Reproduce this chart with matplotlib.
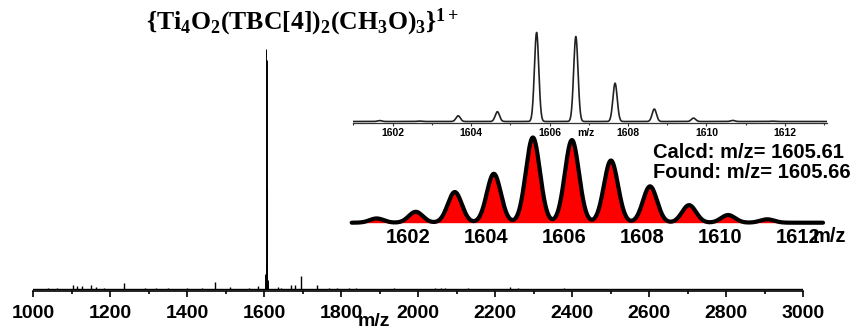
import numpy as np
import matplotlib
matplotlib.use("Agg")
import matplotlib.pyplot as plt
from matplotlib.ticker import MultipleLocator

plt.rcParams['font.family'] = ['Liberation Sans', 'DejaVu Sans']
plt.rcParams['font.weight'] = 'bold'
plt.rcParams['mathtext.fontset'] = 'custom'
plt.rcParams['mathtext.rm'] = 'Liberation Serif:bold'
plt.rcParams['mathtext.it'] = 'Liberation Serif:bold'
plt.rcParams['mathtext.bf'] = 'Liberation Serif:bold'

# Full-range ESI-MS spectrum: minor peaks (m/z, relative intensity %)
survey_mz = [1040, 1062, 1104, 1114, 1126, 1151, 1163, 1185, 1237, 1290, 1320,
             1350, 1400, 1440, 1474, 1512, 1560, 1585, 1637, 1645, 1669, 1680,
             1695, 1738, 1770, 1790, 1820, 1840, 1937, 2045, 2060, 2070, 2130,
             2238, 2260, 2380, 2500]
survey_int = [0.3, 0.3, 1.7, 1.2, 1.2, 1.6, 1.0, 0.5, 2.5, 0.4, 0.6,
              0.4, 0.4, 0.3, 3.1, 1.0, 0.4, 1.2, 0.8, 0.6, 1.6, 1.6,
              5.4, 1.5, 0.6, 0.6, 0.4, 0.4, 0.4, 0.5, 0.6, 0.4, 0.4,
              0.7, 0.6, 0.3, 0.2]

# Observed isotope envelope of {Ti4O2(TBC[4])2(CH3O)3}+
obs_mz = [1601.67, 1602.67, 1603.67, 1604.67, 1605.67, 1606.67, 1607.67,
          1608.67, 1609.67, 1610.67, 1611.67]
obs_int = [1.0, 0.5, 6.4, 11.0, 100.0, 95.5, 43.0, 14.0, 3.8, 1.2, 0.4]

# Simulated isotope envelope
sim_mz = [1601.2, 1602.2, 1603.2, 1604.2, 1605.2, 1606.2, 1607.2,
          1608.2, 1609.2, 1610.2, 1611.2]
sim_int = [5.0, 12.8, 36.0, 57.4, 100.0, 97.0, 73.0, 42.7, 20.6, 9.0, 4.0]

W, H = 858, 331
fig = plt.figure(figsize=(W / 100, H / 100), dpi=100)


def rect(x0, x1, ytop, ybot):
    return [x0 / W, 1 - ybot / H, (x1 - x0) / W, (ybot - ytop) / H]


def profile(x, centers, heights, sigma):
    y = np.zeros_like(x)
    for c, h in zip(centers, heights):
        y += h * np.exp(-0.5 * ((x - c) / sigma) ** 2)
    return y


# ---- main spectrum ----
ax = fig.add_axes(rect(33, 803, 40, 291))
ax.plot([1000, 3000], [0, 0], color='black', lw=1.0)
ax.vlines(survey_mz, 0, survey_int, color='black', lw=1.0)
ax.vlines(obs_mz, 0, obs_int, color='black', lw=0.7)
ax.set_xlim(1000, 3000)
ax.set_ylim(-0.833, 103.75)
for s in ('left', 'right', 'top'):
    ax.spines[s].set_visible(False)
ax.spines['bottom'].set_linewidth(1.2)
ax.set_yticks([])
ax.xaxis.set_major_locator(MultipleLocator(200))
ax.xaxis.set_minor_locator(MultipleLocator(100))
ax.tick_params(axis='x', which='major', direction='out', length=4.5, width=1.2,
               labelsize=14, pad=5.5)
ax.tick_params(axis='x', which='minor', direction='out', length=2.5, width=1.2)
ax.set_xlabel('m/z', fontsize=14, fontweight='bold')
ax.xaxis.set_label_coords((374 - 33) / 770, -(321 - 291) / 251)
ax.xaxis.label.set_va('center')
ax.patch.set_visible(False)

# ---- observed isotope pattern ----
ax1 = fig.add_axes(rect(353, 827.3, 30, 122.7))
x1 = np.linspace(1600.99, 1613.08, 3000)
ax1.plot(x1, profile(x1, obs_mz, obs_int, 0.055), color='#222222', lw=1.2)
ax1.set_xlim(1600.99, 1613.08)
ax1.set_ylim(-1.35, 102.8)
for s in ('left', 'right', 'top'):
    ax1.spines[s].set_visible(False)
ax1.spines['bottom'].set_linewidth(0.9)
ax1.spines['bottom'].set_color('#333333')
ax1.set_yticks([])
ax1.xaxis.set_major_locator(MultipleLocator(2))
ax1.xaxis.set_minor_locator(MultipleLocator(1))
ax1.tick_params(axis='x', which='major', direction='out', length=2.5, width=0.8,
                labelsize=7.5, pad=1, color='#333333')
ax1.tick_params(axis='x', which='minor', direction='out', length=1.5, width=0.8,
                color='#333333')
ax1.set_xlabel('m/z', fontsize=7.5, fontweight='bold')
ax1.xaxis.set_label_coords((586 - 353) / 474.3, -(133 - 122.7) / 92.7)
ax1.xaxis.label.set_va('center')
ax1.patch.set_visible(False)

# ---- simulated isotope pattern ----
ax2 = fig.add_axes(rect(351.7, 823, 130, 222.7))
x2 = np.linspace(1600.56, 1612.63, 3000)
y2 = profile(x2, sim_mz, sim_int, 0.18)
ax2.fill_between(x2, 0, y2, color='#ff0000', lw=0, clip_on=False)
ax2.plot(x2, y2, color='black', lw=3.0, clip_on=False, solid_capstyle='round')
ax2.set_xlim(1600.56, 1612.63)
ax2.set_ylim(0, 108.8)
for s in ax2.spines.values():
    s.set_visible(False)
ax2.set_yticks([])
ax2.set_xticks([1602, 1604, 1606, 1608, 1610, 1612])
ax2.tick_params(axis='x', length=0, labelsize=14.5, pad=3.5)
ax2.set_xlabel('m/z', fontsize=14.5, fontweight='bold')
ax2.xaxis.set_label_coords((829 - 351.7) / 471.3, -(236.7 - 222.7) / 92.7)
ax2.xaxis.label.set_va('center')
ax2.patch.set_visible(False)

fig.text(653 / W, 1 - 152.5 / H, 'Calcd: m/z= 1605.61', fontsize=14.5,
         fontweight='bold', ha='left', va='center')
fig.text(653 / W, 1 - 172 / H, 'Found: m/z= 1605.66', fontsize=14.5,
         fontweight='bold', ha='left', va='center')

fig.text(303 / W, 1 - 29.5 / H,
         r'$\{\mathrm{Ti_4O_2(TBC[4])_2(CH_3O)_3}\}^{1+}$',
         fontsize=18.5, ha='center', va='baseline')

fig.savefig('out.png', dpi=100)
